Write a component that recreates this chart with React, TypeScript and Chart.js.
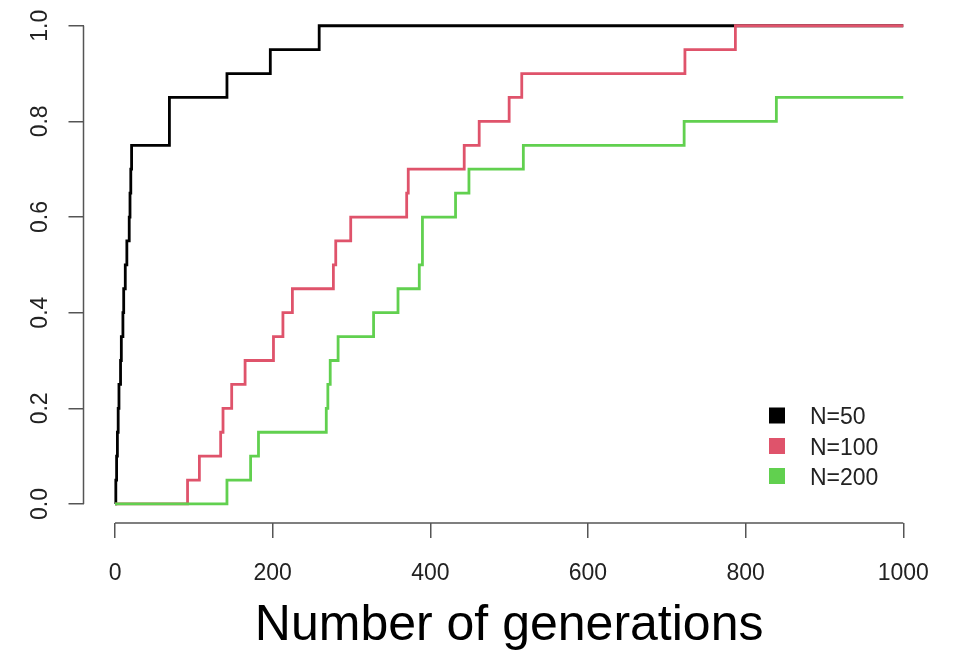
import React, { useEffect, useRef } from "react";
import { Chart, registerables } from "chart.js";

Chart.register(...registerables);

// ---- data ----
const n50X = [0, 1, 2, 3, 4, 5, 7, 8, 10, 11, 13, 15, 18, 19, 20, 21, 69, 142, 197, 259, 1000];
const n50Y = [0, 0.05, 0.1, 0.15, 0.2, 0.25, 0.3, 0.35, 0.4, 0.45, 0.5, 0.55, 0.6, 0.65, 0.7, 0.75, 0.85, 0.9, 0.95, 1.0, 1.0];

const n100X = [0, 92, 107, 134, 137, 148, 165, 201, 213, 225, 277, 280, 299, 370, 372, 443, 462, 500, 516, 723, 787, 1000];
const n100Y = [0, 0.05, 0.1, 0.15, 0.2, 0.25, 0.3, 0.35, 0.4, 0.45, 0.5, 0.55, 0.6, 0.65, 0.7, 0.75, 0.8, 0.85, 0.9, 0.95, 1.0, 1.0];

const n200X = [0, 142, 172, 182, 268, 270, 273, 283, 328, 359, 386, 390, 432, 449, 518, 722, 839, 1000];
const n200Y = [0, 0.05, 0.1, 0.15, 0.2, 0.25, 0.3, 0.35, 0.4, 0.45, 0.5, 0.6, 0.65, 0.7, 0.75, 0.8, 0.85, 0.85];

const seriesLabels = ["N=50", "N=100", "N=200"];
const seriesColors = ["#000000", "#DF536B", "#61D04F"];

const xTicks = [0, 200, 400, 600, 800, 1000];
const xTickLabels = ["0", "200", "400", "600", "800", "1000"];
const yTicks = [0, 0.2, 0.4, 0.6, 0.8, 1.0];
const yTickLabels = ["0.0", "0.2", "0.4", "0.6", "0.8", "1.0"];
const xTitle = "Number of generations";

const FONT = "'Liberation Sans', Arial, Helvetica, sans-serif";
const AXIS_COLOR = "#555555";

const toPoints = (xs: number[], ys: number[]) => xs.map((x, i) => ({ x, y: ys[i] }));

const rAxesPlugin = {
  id: "rAxes",
  afterDraw(chart: any) {
    const ctx = chart.ctx;
    const xs = chart.scales.x;
    const ys = chart.scales.y;
    const area = chart.chartArea;
    ctx.save();
    // axis lines spanning the tick range only (R style)
    ctx.strokeStyle = AXIS_COLOR;
    ctx.lineWidth = 1.5;
    ctx.beginPath();
    ctx.moveTo(xs.getPixelForValue(xTicks[0]), area.bottom);
    ctx.lineTo(xs.getPixelForValue(xTicks[xTicks.length - 1]), area.bottom);
    ctx.moveTo(area.left, ys.getPixelForValue(yTicks[0]));
    ctx.lineTo(area.left, ys.getPixelForValue(yTicks[yTicks.length - 1]));
    ctx.stroke();

    ctx.fillStyle = "#222222";
    ctx.font = `23px ${FONT}`;
    ctx.textAlign = "center";
    ctx.textBaseline = "alphabetic";
    // x tick labels
    xTicks.forEach((v, i) => {
      ctx.fillText(xTickLabels[i], xs.getPixelForValue(v), 580);
    });
    // rotated y tick labels
    yTicks.forEach((v, i) => {
      const py = ys.getPixelForValue(v);
      ctx.save();
      ctx.translate(47, py);
      ctx.rotate(-Math.PI / 2);
      ctx.fillText(yTickLabels[i], 0, 0);
      ctx.restore();
    });

    // x title
    ctx.fillStyle = "#000000";
    ctx.font = `50px ${FONT}`;
    ctx.textAlign = "center";
    ctx.fillText(xTitle, (area.left + area.right) / 2, 640);

    // legend (bottom right, no box)
    const rowsY = [415.5, 446, 476];
    ctx.font = `23px ${FONT}`;
    ctx.textAlign = "left";
    chart.data.datasets.forEach((ds: any, i: number) => {
      const cy = rowsY[i];
      ctx.fillStyle = ds.borderColor;
      ctx.fillRect(769, cy - 8, 16, 16);
      ctx.fillStyle = "#222222";
      ctx.fillText(ds.label, 810, cy + 8.5);
    });
    ctx.restore();
  },
};

export default function App() {
  const canvasRef = useRef<HTMLCanvasElement | null>(null);

  useEffect(() => {
    document.body.style.margin = "0";
    const canvas = canvasRef.current;
    if (!canvas) return;
    const data = [
      toPoints(n50X, n50Y),
      toPoints(n100X, n100Y),
      toPoints(n200X, n200Y),
    ];
    const chart = new Chart(canvas, {
      type: "line",
      data: {
        datasets: data.map((pts, i) => ({
          label: seriesLabels[i],
          data: pts,
          borderColor: seriesColors[i],
          backgroundColor: seriesColors[i],
          borderWidth: 2.8,
          pointRadius: 0,
          fill: false,
          stepped: "before" as const,
          order: 3 - i,
        })),
      },
      options: {
        responsive: false,
        animation: false,
        devicePixelRatio: 1,
        layout: { padding: { left: 83.5, right: 21.2, top: 6.6, bottom: 126.9 } },
        plugins: { legend: { display: false }, tooltip: { enabled: false }, title: { display: false } },
        scales: {
          x: {
            type: "linear",
            min: -40,
            max: 1040,
            afterBuildTicks: (s: any) => {
              s.ticks = xTicks.map((v) => ({ value: v }));
            },
            afterFit: (s: any) => {
              s.height = 0;
            },
            grid: { drawOnChartArea: false, drawTicks: true, tickLength: 15, color: AXIS_COLOR, lineWidth: 1.5 },
            border: { display: false },
            ticks: { display: false },
          },
          y: {
            type: "linear",
            min: -0.04,
            max: 1.04,
            afterBuildTicks: (s: any) => {
              s.ticks = yTicks.map((v) => ({ value: v }));
            },
            afterFit: (s: any) => {
              s.width = 0;
            },
            grid: { drawOnChartArea: false, drawTicks: true, tickLength: 15, color: AXIS_COLOR, lineWidth: 1.5 },
            border: { display: false },
            ticks: { display: false },
          },
        },
      },
      plugins: [rAxesPlugin],
    });
    return () => chart.destroy();
  }, []);

  return (
    <div style={{ width: 956, height: 650, background: "#ffffff" }}>
      <canvas ref={canvasRef} width={956} height={650} style={{ display: "block" }} />
    </div>
  );
}
